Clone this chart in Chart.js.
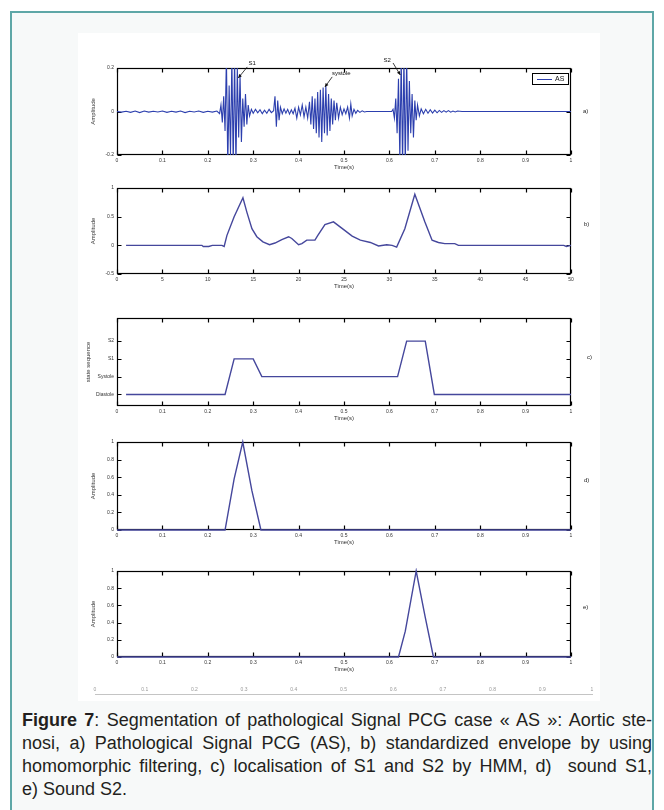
<!DOCTYPE html>
<html>
<head>
<meta charset="utf-8">
<script src="https://cdn.jsdelivr.net/npm/chart.js@4.4.1/dist/chart.umd.min.js"></script>
<style>
  body { margin: 0; width: 664px; height: 810px; background: #ffffff; position: relative; overflow: hidden; }
  .frame { position: absolute; left: 10px; top: 11px; width: 644px; height: 810px; border: 2px solid #5ea7a7; background: #f7f9f9; box-sizing: border-box; }
  .sheet { position: absolute; left: 78px; top: 33px; width: 522px; height: 668px; background: #ffffff; }
  canvas { position: absolute; left: 78px; }
  .tag { position: absolute; font: 6px "Liberation Sans", Arial, sans-serif; color: #222; }
  .legend { position: absolute; left: 532px; top: 73px; width: 35px; height: 10px; border: 1px solid #000; background: #fff; }
  .legend i { position: absolute; left: 4px; top: 5px; width: 15px; height: 1px; background: #2c3fae; }
  .legend span { position: absolute; left: 22px; top: 1px; font: 7px "Liberation Sans", Arial, sans-serif; color: #111; }
  .cap { position: absolute; left: 22px; top: 709px; width: 630px; font-size: 18px; line-height: 23px; color: #231f20;
         font-family: "Liberation Sans Narrow", "Arial Narrow", "Liberation Sans", sans-serif; }
  .cap .j { text-align: justify; text-align-last: justify; }
</style>
</head>
<body>
<div class="frame"></div>
<div class="sheet"></div>

<canvas id="chartA" width="522" height="121" style="top:50px"></canvas>
<canvas id="chartB" width="522" height="110" style="top:180px"></canvas>
<canvas id="chartC" width="522" height="112" style="top:310px"></canvas>
<canvas id="chartD" width="522" height="112" style="top:434px"></canvas>
<canvas id="chartE" width="522" height="110" style="top:563px"></canvas>
<canvas id="chartF" width="522" height="13" style="top:684px"></canvas>

<div class="legend"><i></i><span id="legendText"></span></div>
<div class="tag" style="left:583px;top:108px">a)</div>
<div class="tag" style="left:584px;top:221px">b)</div>
<div class="tag" style="left:587px;top:354px">c)</div>
<div class="tag" style="left:584px;top:477px">d)</div>
<div class="tag" style="left:583px;top:604px">e)</div>

<div class="cap">
  <div class="j"><b>Figure 7</b>: Segmentation of pathological Signal PCG case « AS »: Aortic ste-</div>
  <div class="j">nosi, a) Pathological Signal PCG (AS), b) standardized envelope by using</div>
  <div class="j">homomorphic filtering, c) localisation of S1 and S2 by HMM, d)&nbsp; sound S1,</div>
  <div>e) Sound S2.</div>
</div>

<script>
// axis ticks
const timeTicks = [0, 0.1, 0.2, 0.3, 0.4, 0.5, 0.6, 0.7, 0.8, 0.9, 1];
const timeLabels = ['0', '0.1', '0.2', '0.3', '0.4', '0.5', '0.6', '0.7', '0.8', '0.9', '1'];
const envTicks = [0, 5, 10, 15, 20, 25, 30, 35, 40, 45, 50];
const envLabels = ['0', '5', '10', '15', '20', '25', '30', '35', '40', '45', '50'];
const pcgAmpTicks = [-0.2, 0, 0.2];
const pcgAmpLabels = ['-0.2', '0', '0.2'];
const envAmpTicks = [-0.5, 0, 0.5, 1];
const envAmpLabels = ['-0.5', '0', '0.5', '1'];
const stateTicks = [1, 2, 3, 4];
const stateNames = ['Diastole', 'Systole', 'S1', 'S2'];
const soundTicks = [0, 0.2, 0.4, 0.6, 0.8, 1];
const soundLabels = ['0', '0.2', '0.4', '0.6', '0.8', '1'];

// a) PCG signal (AS)
const pcgTime = [0, 0.01, 0.02, 0.03, 0.04, 0.05, 0.06, 0.07, 0.08, 0.09, 0.1, 0.11, 0.12, 0.13, 0.14, 0.15, 0.16, 0.17, 0.18, 0.19, 0.2, 0.21, 0.22,
  0.226, 0.229, 0.232, 0.235, 0.238, 0.241, 0.244, 0.247, 0.25, 0.253, 0.256, 0.259, 0.262, 0.265, 0.268, 0.271, 0.274, 0.277, 0.28, 0.283, 0.286, 0.289, 0.292, 0.296,
  0.3, 0.305, 0.31, 0.315, 0.32, 0.325, 0.33, 0.335, 0.34, 0.345, 0.348, 0.351, 0.354, 0.357, 0.36, 0.364, 0.368, 0.372, 0.376, 0.38, 0.384, 0.388, 0.392, 0.396,
  0.4, 0.404, 0.408, 0.412, 0.416, 0.42, 0.424, 0.427, 0.43, 0.433, 0.436, 0.439, 0.442, 0.445, 0.448, 0.451, 0.454, 0.457, 0.46, 0.463, 0.466, 0.469, 0.472, 0.475, 0.478, 0.481, 0.484, 0.488, 0.492, 0.496,
  0.5, 0.504, 0.508, 0.512, 0.515, 0.518, 0.522, 0.526, 0.53, 0.535, 0.54, 0.545, 0.55,
  0.605, 0.608, 0.611, 0.614, 0.617, 0.62, 0.623, 0.626, 0.629, 0.632, 0.635, 0.638, 0.641, 0.644, 0.647, 0.65, 0.653, 0.656, 0.659, 0.662, 0.666,
  0.67, 0.675, 0.68, 0.685, 0.69, 0.695, 0.7, 0.705, 0.71, 0.715, 0.72, 0.725, 0.73, 0.735, 0.74, 0.745, 0.75, 0.76, 1];
const pcgAmp = [0, -0.003, 0.001, -0.004, 0.002, -0.005, 0.002, -0.003, 0.001, -0.002, 0.002, -0.004, 0.001, -0.003, 0.002, -0.005, 0.001, -0.002, 0.002, -0.004, 0.001, -0.003, 0.002,
  -0.01, 0.03, -0.05, 0.07, -0.09, 0.25, -0.25, 0.12, -0.2, 0.25, -0.25, 0.25, -0.25, 0.2, -0.12, 0.17, -0.14, 0.06, -0.07, 0.08, -0.06, 0.03, -0.02, 0.01,
  -0.008, 0.01, -0.006, 0.008, -0.01, 0.006, -0.008, 0.01, -0.005, 0.004, 0.07, -0.07, 0.05, -0.04, 0.02, -0.01, 0.012, -0.008, 0.01, -0.012, 0.008, -0.01, 0.015, -0.03,
  0.02, -0.015, 0.03, -0.025, 0.02, -0.03, 0.045, -0.06, 0.07, -0.08, 0.06, -0.1, 0.09, -0.12, 0.1, -0.14, 0.11, -0.1, 0.12, -0.11, 0.08, -0.09, 0.06, -0.06, 0.05, -0.04, 0.04, -0.03, 0.02, -0.015,
  0.012, -0.01, 0.02, -0.03, 0.035, -0.02, 0.01, -0.008, 0.005, -0.004, 0.003, -0.002, 0,
  0, 0.01, -0.03, 0.06, -0.1, 0.15, -0.22, 0.25, -0.25, 0.25, -0.25, 0.25, -0.18, 0.14, -0.1, 0.08, -0.12, 0.05, -0.04, 0.03, -0.02,
  0.012, -0.01, 0.01, -0.008, 0.008, -0.007, 0.006, -0.006, 0.005, -0.004, 0.004, -0.003, 0.004, -0.003, 0.002, -0.002, 0.002, 0, 0];

// b) standardized envelope
const envTime = [1, 9.35, 9.5, 10.1, 10.5, 11.55, 11.8, 12.1, 12.9, 13.87, 14.3, 14.86, 15.4, 16.07, 16.8, 17.4, 18.15, 18.9, 19.25, 20, 20.36, 20.9, 21.8, 22.1, 22.9, 23.84,
  24.75, 25.9, 26.8, 27.9, 28.8, 29.7, 30.3, 30.8, 31.7, 32.8, 33.9, 34.7, 35.4, 36.1, 37.2, 37.6, 49.2, 49.5, 50];
const envAmp = [0, 0, -0.02, -0.02, 0, 0, -0.02, 0.17, 0.5, 0.83, 0.58, 0.29, 0.15, 0.06, 0.01, 0.04, 0.1, 0.15, 0.12, 0.01, 0.03, 0.09, 0.09, 0.17, 0.36, 0.41,
  0.3, 0.16, 0.09, 0.05, -0.01, 0.01, 0, -0.03, 0.29, 0.89, 0.41, 0.09, 0.05, 0.03, 0.03, 0, 0, -0.02, 0];

// c) HMM state sequence (1 Diastole, 2 Systole, 3 S1, 4 S2)
const stateTime = [0.02, 0.238, 0.258, 0.3, 0.319, 0.618, 0.638, 0.679, 0.699, 1];
const stateLevel = [1, 1, 3, 3, 2, 2, 4, 4, 1, 1];

// d) sound S1, e) sound S2
const s1Time = [0, 0.238, 0.258, 0.277, 0.297, 0.317, 1];
const s1Amp = [0, 0, 0.58, 1, 0.45, 0, 0];
const s2Time = [0, 0.62, 0.635, 0.659, 0.679, 0.697, 1];
const s2Amp = [0, 0, 0.3, 1, 0.46, 0, 0];

const legendLabel = 'AS';

// text marks on panel a, in data units
const notes = [
  { text: 'S1', x: 0.298, y: 0.223, fromX: 0.287, fromY: 0.205, toX: 0.267, toY: 0.154 },
  { text: 'systole', x: 0.494, y: 0.177, fromX: 0.474, fromY: 0.159, toX: 0.458, toY: 0.113 },
  { text: 'S2', x: 0.595, y: 0.237, fromX: 0.608, fromY: 0.223, toX: 0.624, toY: 0.168 }
];

const FONT = '"Liberation Sans", Arial, sans-serif';
const INK = '#333';

// MATLAB-like frame with inward ticks on all four sides
const boxPlugin = {
  id: 'matlabBox',
  beforeDatasetsDraw(chart) {
    const { ctx, chartArea: a, scales } = chart;
    const x = scales.x, y = scales.y;
    const L = Math.round(a.left) + 0.5, R = Math.round(a.right) - 0.5;
    const T = Math.round(a.top) + 0.5, B = Math.round(a.bottom) - 0.5;
    ctx.save();
    ctx.strokeStyle = '#000';
    ctx.lineWidth = 1.2;
    ctx.strokeRect(L, T, R - L, B - T);
    ctx.beginPath();
    x.ticks.forEach(t => {
      const px = Math.round(x.getPixelForValue(t.value)) + 0.5;
      ctx.moveTo(px, T); ctx.lineTo(px, T + 4);
      ctx.moveTo(px, B); ctx.lineTo(px, B - 4);
    });
    y.ticks.forEach(t => {
      const py = Math.round(y.getPixelForValue(t.value)) + 0.5;
      ctx.moveTo(L, py); ctx.lineTo(L + 4, py);
      ctx.moveTo(R, py); ctx.lineTo(R - 4, py);
    });
    ctx.stroke();
    ctx.restore();
  }
};

const notePlugin = {
  id: 'notes',
  afterDraw(chart) {
    const { ctx, scales: { x, y } } = chart;
    ctx.save();
    ctx.fillStyle = '#111';
    ctx.strokeStyle = '#111';
    ctx.lineWidth = 0.8;
    ctx.font = '6px ' + FONT;
    ctx.textAlign = 'center';
    ctx.textBaseline = 'middle';
    notes.forEach(n => {
      ctx.fillText(n.text, x.getPixelForValue(n.x), y.getPixelForValue(n.y));
      const x0 = x.getPixelForValue(n.fromX), y0 = y.getPixelForValue(n.fromY);
      const x1 = x.getPixelForValue(n.toX), y1 = y.getPixelForValue(n.toY);
      ctx.beginPath(); ctx.moveTo(x0, y0); ctx.lineTo(x1, y1); ctx.stroke();
      const ang = Math.atan2(y1 - y0, x1 - x0);
      ctx.beginPath();
      ctx.moveTo(x1, y1);
      ctx.lineTo(x1 - 4 * Math.cos(ang - 0.45), y1 - 4 * Math.sin(ang - 0.45));
      ctx.lineTo(x1 - 4 * Math.cos(ang + 0.45), y1 - 4 * Math.sin(ang + 0.45));
      ctx.closePath(); ctx.fill();
    });
    ctx.restore();
  }
};

function axis(tickValues, tickLabels, min, max, title, size) {
  return {
    type: 'linear', min: min, max: max,
    afterBuildTicks: s => { s.ticks = tickValues.map(v => ({ value: v })); },
    ticks: { callback: (v, i) => tickLabels[i], font: { size: 5, family: FONT }, color: INK, padding: 3, maxRotation: 0, autoSkip: false },
    grid: { display: false, drawTicks: false },
    border: { display: false },
    title: { display: true, text: title, font: { size: 6, family: FONT }, color: INK, padding: 0 },
    afterFit: s => { if (s.isHorizontal()) s.height = size; else s.width = size; }
  };
}

function makePanel(id, o) {
  const points = o.xs.map((v, i) => ({ x: v, y: o.ys[i] }));
  return new Chart(document.getElementById(id), {
    type: 'line',
    data: { datasets: [{ label: o.label || '', data: points, borderColor: o.color, borderWidth: o.lineWidth,
      pointRadius: 0, tension: 0, clip: o.clip }] },
    options: {
      responsive: false,
      animation: false,
      layout: { padding: { left: o.padLeft, right: 29, top: o.padTop, bottom: 0 } },
      plugins: { legend: { display: false }, tooltip: { enabled: false } },
      scales: {
        x: axis(o.xTicks, o.xLabels, o.xMin, o.xMax, 'Time(s)', 16),
        y: axis(o.yTicks, o.yLabels, o.yMin, o.yMax, o.yTitle, o.yWidth)
      }
    },
    plugins: [boxPlugin].concat(o.extra || [])
  });
}

makePanel('chartA', { xs: pcgTime, ys: pcgAmp, label: legendLabel, color: '#2c3fae', lineWidth: 1.1, clip: 0,
  xTicks: timeTicks, xLabels: timeLabels, xMin: 0, xMax: 1,
  yTicks: pcgAmpTicks, yLabels: pcgAmpLabels, yMin: -0.2, yMax: 0.2, yTitle: 'Amplitude',
  padLeft: 12, yWidth: 27, padTop: 18, extra: [notePlugin] });

makePanel('chartB', { xs: envTime, ys: envAmp, color: '#45479c', lineWidth: 1.4, clip: 0,
  xTicks: envTicks, xLabels: envLabels, xMin: 0, xMax: 50,
  yTicks: envAmpTicks, yLabels: envAmpLabels, yMin: -0.5, yMax: 1, yTitle: 'Amplitude',
  padLeft: 12, yWidth: 27, padTop: 8 });

makePanel('chartC', { xs: stateTime, ys: stateLevel, color: '#45479c', lineWidth: 1.4, clip: 0,
  xTicks: timeTicks, xLabels: timeLabels, xMin: 0, xMax: 1,
  yTicks: stateTicks, yLabels: stateNames, yMin: 0.35, yMax: 5.3, yTitle: 'state sequence',
  padLeft: 7, yWidth: 32, padTop: 8 });

makePanel('chartD', { xs: s1Time, ys: s1Amp, color: '#45479c', lineWidth: 1.4, clip: 3,
  xTicks: timeTicks, xLabels: timeLabels, xMin: 0, xMax: 1,
  yTicks: soundTicks, yLabels: soundLabels, yMin: 0, yMax: 1, yTitle: 'Amplitude',
  padLeft: 12, yWidth: 27, padTop: 8 });

makePanel('chartE', { xs: s2Time, ys: s2Amp, color: '#45479c', lineWidth: 1.4, clip: 3,
  xTicks: timeTicks, xLabels: timeLabels, xMin: 0, xMax: 1,
  yTicks: soundTicks, yLabels: soundLabels, yMin: 0, yMax: 1, yTitle: 'Amplitude',
  padLeft: 12, yWidth: 27, padTop: 8 });

// leftover bare time axis under the last panel
new Chart(document.getElementById('chartF'), {
  type: 'line',
  data: { datasets: [] },
  options: {
    responsive: false,
    animation: false,
    layout: { padding: { left: 17, right: 8, top: 0, bottom: 0 } },
    plugins: { legend: { display: false }, tooltip: { enabled: false } },
    scales: {
      x: {
        type: 'linear', position: 'top', min: 0, max: 1,
        afterBuildTicks: s => { s.ticks = timeTicks.map(v => ({ value: v })); },
        ticks: { callback: (v, i) => timeLabels[i], font: { size: 5, family: FONT }, color: '#999', padding: 1, maxRotation: 0 },
        grid: { display: false, drawTicks: false },
        border: { display: true, color: '#c4c4c4', width: 1 },
        afterFit: s => { s.height = 10; }
      },
      y: { display: false, min: 0, max: 1 }
    }
  }
});

document.getElementById('legendText').textContent = legendLabel;
</script>
</body>
</html>
